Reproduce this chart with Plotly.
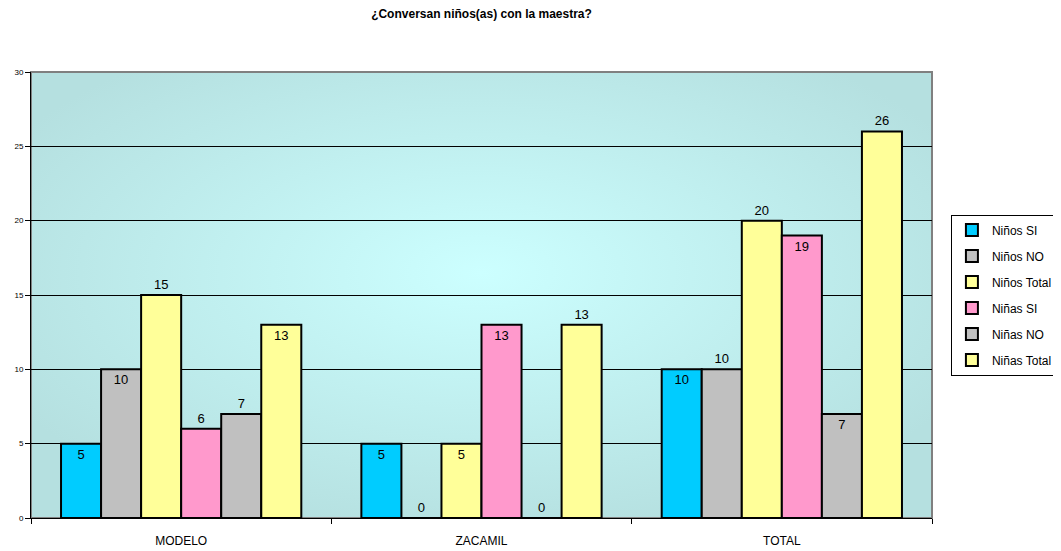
import base64
import plotly.graph_objects as go

categories = ["MODELO", "ZACAMIL", "TOTAL"]
series_names = ["Niños SI", "Niños NO", "Niños Total", "Niñas SI", "Niñas NO", "Niñas Total"]
ninos_si = [5, 5, 10]
ninos_no = [10, 0, 10]
ninos_total = [15, 5, 20]
ninas_si = [6, 13, 19]
ninas_no = [7, 0, 7]
ninas_total = [13, 13, 26]
y_ticks = [0, 5, 10, 15, 20, 25, 30]

series_values = [ninos_si, ninos_no, ninos_total, ninas_si, ninas_no, ninas_total]
colors = ["#00CCFF", "#C0C0C0", "#FFFF99", "#FF99CC", "#C0C0C0", "#FFFF99"]
# where Excel had the data labels (inside top or above the bar)
label_pos = [
    ["inside", "inside", "inside"],
    ["inside", "outside", "outside"],
    ["outside", "inside", "outside"],
    ["outside", "inside", "inside"],
    ["outside", "outside", "inside"],
    ["inside", "outside", "outside"],
]

# radial gradient background for the plot area
svg = """<svg xmlns='http://www.w3.org/2000/svg' width='900' height='446' preserveAspectRatio='none'>
<defs><radialGradient id='g' cx='50%' cy='45%' r='60%'>
<stop offset='0%' stop-color='#CCFFFF'/><stop offset='100%' stop-color='#B5E0E0'/>
</radialGradient></defs>
<rect width='900' height='446' fill='url(#g)'/></svg>"""
bg_src = "data:image/svg+xml;base64," + base64.b64encode(svg.encode()).decode()

fig = go.Figure()
for name, vals, col, pos in zip(series_names, series_values, colors, label_pos):
    fig.add_trace(go.Bar(
        x=categories, y=vals, name=name, legendgroup=name,
        marker=dict(color=col, line=dict(color="black", width=2)),
        text=vals, textposition=pos, insidetextanchor="end",
        textfont=dict(family="Liberation Sans, Arial", size=13, color="black"),
        cliponaxis=False,
    ))

# page body has an 8px margin, so the figure is a bit smaller than the window
fig.update_layout(
    width=1053, height=543,
    margin=dict(l=23, r=129, t=64, b=33, autoexpand=False),
    paper_bgcolor="white",
    plot_bgcolor="rgba(0,0,0,0)",
    barmode="group", bargap=0.2, bargroupgap=0,
    font=dict(family="Liberation Sans, Arial", color="black"),
    title=dict(text="<b>¿Conversan niños(as) con la maestra?</b>",
               xref="paper", x=0.5, xanchor="center", y=0.997, yanchor="top",
               font=dict(size=12)),
    legend=dict(x=1.021, xanchor="left", y=0.5, yanchor="middle",
                bordercolor="black", borderwidth=1, bgcolor="white",
                font=dict(size=12), tracegroupgap=7),
    images=[dict(source=bg_src, xref="paper", yref="paper", x=0, y=1,
                 sizex=1, sizey=1, sizing="stretch", layer="below")],
    shapes=[dict(type="rect", xref="paper", yref="paper", x0=0, y0=0, x1=1, y1=1,
                 line=dict(color="#808080", width=2), layer="below")],
)
fig.update_xaxes(showgrid=False, ticks="outside", tickson="boundaries", ticklen=5,
                 tickcolor="black", showline=True, linecolor="black", linewidth=1,
                 tickfont=dict(size=12), ticklabelstandoff=12, automargin=False)
fig.update_yaxes(range=[0, 30], tickvals=y_ticks, showgrid=True, gridcolor="black",
                 gridwidth=1, zeroline=False, ticks="outside", ticklen=5,
                 tickcolor="black", showline=True, linecolor="black",
                 tickfont=dict(size=8), automargin=False)

fig.write_html("out.html")
